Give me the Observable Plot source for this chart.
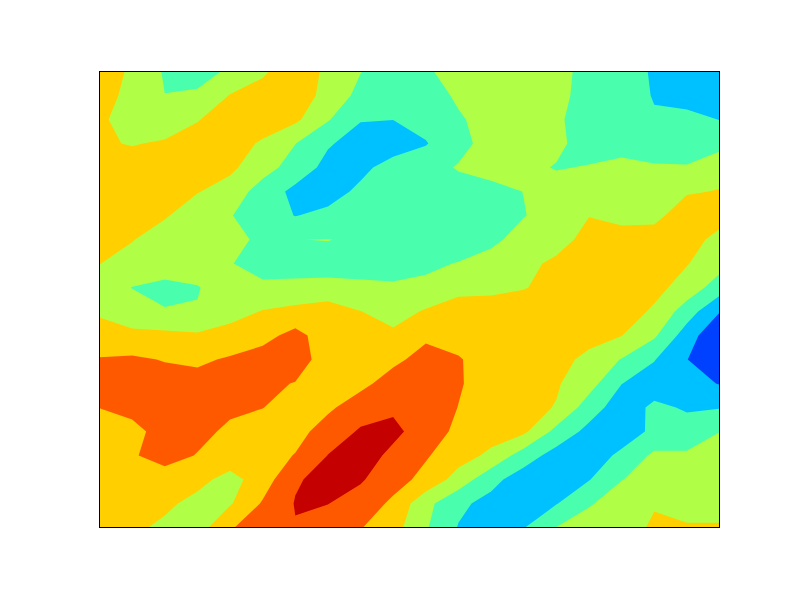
<!DOCTYPE html>
<html>
<head>
<meta charset="utf-8">
<script src="https://cdn.jsdelivr.net/npm/d3@7"></script>
<script src="https://cdn.jsdelivr.net/npm/@observablehq/plot@0.6"></script>
<style>
  html, body { margin: 0; padding: 0; background: #ffffff; }
  #chart svg { display: block; }
</style>
</head>
<body>
<div id="chart"></div>
<script>
// Grid size (columns x rows) of the sampled field
const nx = 20;
const ny = 20;

// Contour levels and band colours (jet, 8 bands)
const levels = [0, 1, 2, 3, 4, 5, 6, 7, 8];
const bandColors = ["#0000c8", "#0040ff", "#00c1ff", "#49ffad", "#b0ff46", "#ffcf00", "#ff5900", "#c40000"];

// Field values, row 0 = top, column 0 = left
const row00 = [5.5, 4.85, 3.9, 3.5, 4.2, 4.85, 5.6, 4.8, 4.03, 3.4, 3.8, 4.6, 4.7, 4.6, 4.3, 3.7, 3.4, 2.9, 2.5, 2.4];
const row01 = [5.3, 4.78, 4.01, 4.2, 5.04, 5.4, 5.5, 4.7, 3.7, 3.3, 3.4, 4.2, 4.6, 4.6, 4.3, 3.6, 3.4, 2.95, 2.6, 2.5];
const row02 = [5.1, 4.74, 4.5, 4.95, 5.45, 5.6, 5.2, 4.08, 3.05, 3.01, 3.3, 3.85, 4.5, 4.6, 4.2, 3.4, 3.3, 3.08, 3.29, 2.98];
const row03 = [5.1, 4.95, 5.1, 5.4, 5.5, 4.85, 4.02, 3.1, 2.6, 2.5, 2.95, 3.6, 4.5, 4.6, 4.35, 3.3, 3.2, 3.2, 3.2, 3.7];
const row04 = [5.4, 5.4, 5.5, 5.5, 5.2, 4.4, 3.58, 2.7, 2.75, 3.4, 3.5, 4.1, 4.5, 4.4, 3.9, 4.1, 4.58, 4.16, 4.11, 4.6];
const row05 = [5.5, 5.6, 5.5, 5.05, 4.6, 3.55, 2.75, 2.6, 3.2, 3.4, 3.4, 3.5, 3.6, 4.02, 4.7, 4.6, 4.5, 4.6, 4.9, 5.05];
const row06 = [5.6, 5.5, 5.1, 4.45, 4.05, 3.5, 2.97, 3.24, 3.3, 3.4, 3.5, 3.5, 3.6, 3.95, 4.5, 4.98, 4.75, 4.7, 5.6, 5.4];
const row07 = [5.4, 5.05, 4.5, 4.4, 4.3, 3.8, 3.99, 4.02, 3.877, 3.6, 3.5, 3.4, 3.7, 4.5, 4.7, 5.25, 5.35, 5.5, 5.4, 4.7];
const row08 = [5.02, 4.6, 4.6, 4.5, 4.05, 3.6, 3.7, 3.75, 3.7, 3.7, 3.8, 4.05, 4.5, 4.8, 5.15, 5.5, 5.6, 5.4, 5.05, 4.4];
const row09 = [4.5, 3.98, 3.7, 3.95, 4.45, 4.2, 4.18, 4.18, 4.15, 4.1, 4.23, 4.75, 4.8, 4.95, 5.3, 5.5, 5.6, 5.3, 4.6, 3.5];
const row10 = [4.8, 4.4, 4.07, 4.05, 4.6, 5.05, 5.3, 5.6, 5.02, 4.6, 5.1, 5.4, 5.4, 5.5, 5.6, 5.7, 5.5, 4.85, 3.5, 2.05];
const row11 = [5.6, 5.25, 5.25, 5.14, 5.4, 5.7, 6.3, 5.5, 5.4, 5.2, 5.8, 5.75, 5.4, 5.5, 5.5, 5.4, 5.02, 4.15, 2.5, 1.1];
const row12 = [6.04, 6.15, 5.95, 5.85, 6.1, 6.4, 6.6, 5.4, 5.5, 5.75, 6.4, 6.05, 5.7, 5.6, 5.4, 4.7, 3.95, 3.05, 2.02, 1.3];
const row13 = [6.3, 6.4, 6.4, 6.3, 6.3, 6.25, 5.95, 5.5, 5.7, 6.5, 6.6, 6.1, 5.5, 5.4, 5.1, 4.4, 3.02, 2.5, 2.4, 1.95];
const row14 = [6.02, 6.3, 6.5, 6.4, 6.2, 6.02, 5.6, 5.8, 6.6, 6.9, 6.6, 5.98, 5.5, 5.3, 4.95, 3.5, 2.45, 3.2, 2.9, 2.95];
const row15 = [5.4, 5.7, 6.4, 6.3, 5.8, 5.5, 5.6, 6.5, 7.1, 7.15, 6.7, 5.7, 5.4, 5.2, 3.7, 2.7, 2.5, 3.2, 3.38, 3.98];
const row16 = [5.3, 5.9, 6.4, 5.95, 5.6, 5.5, 6.05, 7.02, 7.3, 6.85, 6.1, 5.4, 4.8, 3.5, 2.6, 2.5, 3.2, 4.2, 4.15, 4.6];
const row17 = [5.3, 5.4, 5.5, 5.3, 4.65, 5.5, 6.9, 7.3, 7.1, 6.4, 5.7, 4.6, 3.3, 2.5, 2.4, 2.95, 3.97, 4.4, 4.5, 4.6];
const row18 = [5.3, 5.4, 5.2, 4.7, 4.9, 6.1, 7.05, 7.02, 6.6, 5.8, 4.3, 3.2, 2.7, 2.5, 2.95, 3.9, 4.5, 4.95, 4.6, 4.6];
const row19 = [5.3, 5.2, 4.8, 4.5, 5.95, 6.3, 6.95, 6.5, 6.05, 5.4, 4.1, 2.95, 2.6, 2.95, 4.02, 4.5, 4.7, 5.1, 5.1, 5.1];

const rows = [row00, row01, row02, row03, row04, row05, row06, row07, row08, row09,
              row10, row11, row12, row13, row14, row15, row16, row17, row18, row19];
const values = rows.flat();

const chart = Plot.plot({
  width: 800,
  height: 600,
  marginLeft: 99,
  marginRight: 81,
  marginTop: 71,
  marginBottom: 73,
  style: { background: "#ffffff" },
  x: { domain: [0, nx - 1], axis: null },
  y: { domain: [ny - 1, 0], axis: null },
  color: { type: "threshold", domain: levels.slice(1, -1), range: bandColors },
  marks: [
    Plot.contour(values, {
      width: nx,
      height: ny,
      x1: -0.5, x2: nx - 0.5,
      y1: -0.5, y2: ny - 0.5,
      fill: Plot.identity,
      thresholds: levels.slice(0, -1),
      clip: true
    }),
    Plot.frame({ stroke: "black", strokeWidth: 1 })
  ]
});
document.getElementById("chart").appendChild(chart);
</script>
</body>
</html>
